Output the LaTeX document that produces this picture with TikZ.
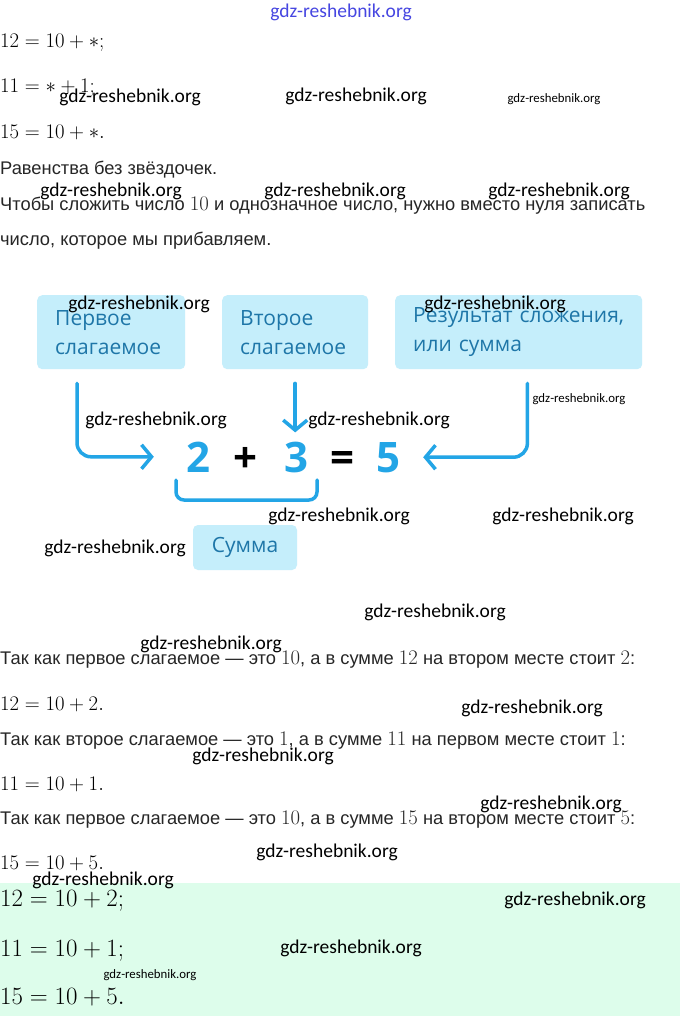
\documentclass[tikz,border=0pt]{standalone}
\usepackage{fontspec}
\setmainfont{Liberation Sans}
\newfontfamily\wmfont{Carlito}
\newfontfamily\boxfont{Open Sans}
\usetikzlibrary{arrows.meta}

\newcommand{\bodynum}[1]{{\fontsize{20}{20}\selectfont$#1$}}

\definecolor{boxfill}{RGB}{197,238,251}
\definecolor{boxtext}{RGB}{30,118,168}
\definecolor{numblue}{RGB}{35,165,230}
\definecolor{answergreen}{RGB}{221,253,235}
\definecolor{wmblue}{RGB}{70,70,225}

\tikzset{
	mathline/.style={anchor=west, inner sep=0pt, font=\fontsize{21}{25}\selectfont},
	answerline/.style={anchor=west, inner sep=0pt, font=\fontsize{23}{27}\selectfont},
	bodyline/.style={anchor=west, inner sep=0pt, text=black!85, font=\fontsize{18.3}{21}\selectfont},
	termbox/.style={anchor=north west, fill=boxfill, rounded corners=5pt, inner ysep=0pt, inner xsep=18pt, minimum height=74pt, align=left, text=boxtext, font=\boxfont\fontsize{21}{29}\selectfont},
	sumbox/.style={fill=boxfill, rounded corners=5pt, inner sep=0pt, minimum width=104pt, minimum height=45pt, text=boxtext, font=\boxfont\fontsize{21}{25}\selectfont},
	digit/.style={anchor=base, inner sep=0pt, text=numblue, font=\boxfont\bfseries\fontsize{42}{42}\selectfont},
	opsign/.style={anchor=base, inner sep=0pt, text=black, font=\boxfont\bfseries\fontsize{42}{42}\selectfont},
	arr/.style={draw=numblue, line width=3.5pt, rounded corners=14pt, line cap=round, -{Straight Barb[length=10pt,width=24pt]}},
	brace/.style={draw=numblue, line width=3.5pt, rounded corners=8pt, line cap=round},
	wmark/.style={inner sep=0pt, font=\wmfont\fontsize{19.5}{20}\selectfont},
	wmsmall/.style={inner sep=0pt, font=\wmfont\fontsize{12.8}{13}\selectfont}
}

\begin{document}
\begin{tikzpicture}[x=1pt,y=-1pt]
	
	\fill[white] (0,0) rectangle (680,1016);
	\useasboundingbox (0,0) rectangle (680,1016);
	\fill[answergreen] (0,883) rectangle (680,1016);
	
	\node[mathline] (eqA) at (0,43) {$12 = 10 + \ast;$};
	\node[mathline] (eqB) at (0,88) {$11 = \ast + 1;$};
	\node[mathline] (eqC) at (0,132) {$15 = 10 + \ast.$};
	
	\node[bodyline] (noteA) at (0,170) {Равенства без звёздочек.};
	\node[bodyline] (ruleA) at (0,206) {Чтобы сложить число \bodynum{10} и однозначное число, нужно вместо нуля записать};
	\node[bodyline] (ruleB) at (0,241) {число, которое мы прибавляем.};
	
	\node[termbox, text width=112pt] (box1) at (37,295) {Первое\\слагаемое};
	\node[termbox, text width=110pt] (box2) at (222,295) {Второе\\слагаемое};
	\node[termbox, text width=211pt] (box3) at (395,295) {Результат сложения,\\или сумма};
	
	\node[digit] (two) at (198,472) {2};
	\node[opsign] (plus) at (245,472) {+};
	\node[digit] (three) at (296,472) {3};
	\node[opsign] (equals) at (342,472) {=};
	\node[digit] (five) at (388,472) {5};
	
	\draw[arr] ([xshift=40pt,yshift=-14pt]box1.south west) |- ([xshift=-32pt]two.west);
	\draw[arr] ([yshift=-14pt]box2.south) -- ([yshift=9pt]box2.south |- three.north);
	\draw[arr] ([xshift=-115pt,yshift=-14pt]box3.south east) |- ([xshift=23pt]five.east);
	
	\draw[brace] (176,480) |- (246,500) -| (317,480);
	\node[sumbox] (sum) at (245,547.5) {Сумма};
	
	\node[bodyline] (whyA) at (0,660) {Так как первое слагаемое — это \bodynum{10}, а в сумме \bodynum{12} на втором месте стоит \bodynum{2}:};
	\node[mathline] (solA) at (0,704) {$12 = 10 + 2.$};
	\node[bodyline] (whyB) at (0,741) {Так как второе слагаемое — это \bodynum{1}, а в сумме \bodynum{11} на первом месте стоит \bodynum{1}:};
	\node[mathline] (solB) at (0,784) {$11 = 10 + 1.$};
	\node[bodyline] (whyC) at (0,820) {Так как первое слагаемое — это \bodynum{10}, а в сумме \bodynum{15} на втором месте стоит \bodynum{5}:};
	\node[mathline] (solC) at (0,863) {$15 = 10 + 5.$};
	
	\node[answerline] (ansA) at (0,901) {$12 = 10 + 2;$};
	\node[answerline] (ansB) at (0,951) {$11 = 10 + 1;$};
	\node[answerline] (ansC) at (0,997) {$15 = 10 + 5.$};
	
	\node[wmark, text=wmblue] (wmtop) at (341,12) {gdz-reshebnik.org};
	\node[wmark] (wm1) at (130,97) {gdz-reshebnik.org};
	\node[wmark] (wm2) at (356,96) {gdz-reshebnik.org};
	\node[wmsmall] (wm3) at (554,99) {gdz-reshebnik.org};
	\node[wmark] (wm4) at (111,191) {gdz-reshebnik.org};
	\node[wmark] (wm5) at (335,191) {gdz-reshebnik.org};
	\node[wmark] (wm6) at (559,191) {gdz-reshebnik.org};
	\node[wmark] (wm7) at (139,304) {gdz-reshebnik.org};
	\node[wmark] (wm8) at (495,304) {gdz-reshebnik.org};
	\node[wmsmall] (wm9) at (579,399) {gdz-reshebnik.org};
	\node[wmark] (wm10) at (156,420) {gdz-reshebnik.org};
	\node[wmark] (wm11) at (379,420) {gdz-reshebnik.org};
	\node[wmark] (wm12) at (339,516) {gdz-reshebnik.org};
	\node[wmark] (wm13) at (563,516) {gdz-reshebnik.org};
	\node[wmark] (wm14) at (115,548) {gdz-reshebnik.org};
	\node[wmark] (wm15) at (435,612) {gdz-reshebnik.org};
	\node[wmark] (wm16) at (211,644) {gdz-reshebnik.org};
	\node[wmark] (wm17) at (532,708) {gdz-reshebnik.org};
	\node[wmark] (wm18) at (263,756) {gdz-reshebnik.org};
	\node[wmark] (wm19) at (551,804) {gdz-reshebnik.org};
	\node[wmark] (wm20) at (327,852) {gdz-reshebnik.org};
	\node[wmark] (wm21) at (103,880) {gdz-reshebnik.org};
	\node[wmark] (wm22) at (575,900) {gdz-reshebnik.org};
	\node[wmark] (wm23) at (351,948) {gdz-reshebnik.org};
	\node[wmsmall] (wm24) at (150,975) {gdz-reshebnik.org};
	
\end{tikzpicture}
\end{document}
